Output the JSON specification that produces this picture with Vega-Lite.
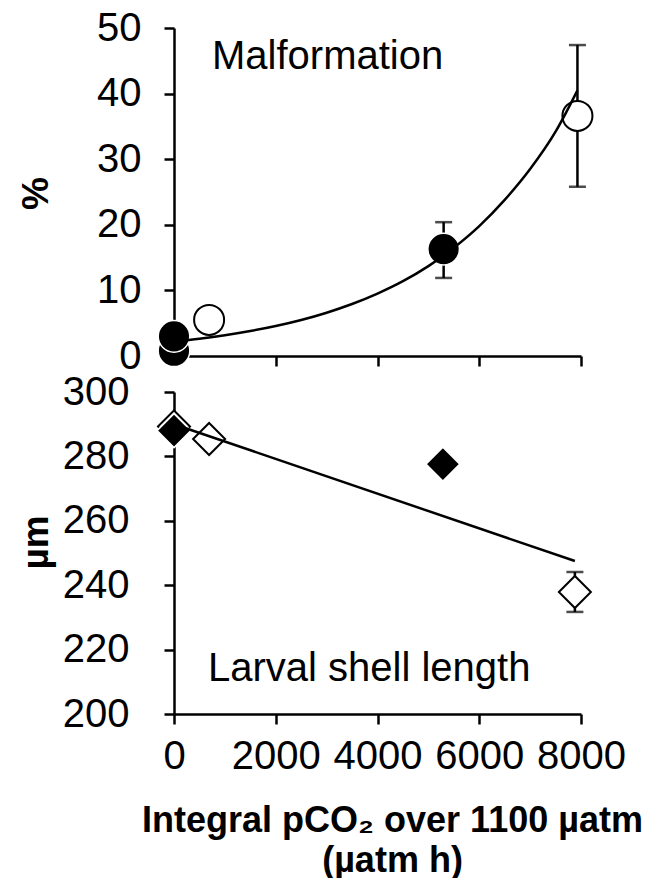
{
  "$schema": "https://vega.github.io/schema/vega-lite/v6.json",
  "background": "white",
  "padding": {"left": 17, "top": 8, "right": 0, "bottom": 0},
  "bounds": "flush",
  "spacing": 36,
  "config": {
    "font": "Liberation Sans",
    "view": {"stroke": null},
    "text": {"font": "Liberation Sans"},
    "axis": {
      "domainColor": "black", "domainWidth": 2.5,
      "tickColor": "black", "tickWidth": 2.5, "tickSize": 10,
      "labelFont": "Liberation Sans", "labelFontSize": 40, "labelColor": "black",
      "labelOverlap": false, "labelFlush": false,
      "grid": false,
      "titleFont": "Liberation Sans", "titleFontWeight": "bold", "titleColor": "black", "titleFontSize": 37
    }
  },
  "datasets": {
    "malf": [
      {"x": 0, "y": 0.8, "kind": "closed"},
      {"x": 0, "y": 3.0, "kind": "closed"},
      {"x": 690, "y": 5.5, "kind": "open"},
      {"x": 5300, "y": 16.3, "lo": 11.9, "hi": 20.4, "kind": "closed"},
      {"x": 7930, "y": 36.6, "lo": 25.8, "hi": 47.4, "kind": "open"}
    ],
    "malfCurve": [
      {"x": 0, "y": 2.2}, {"x": 500, "y": 2.64}, {"x": 1000, "y": 3.17}, {"x": 1500, "y": 3.81},
      {"x": 2000, "y": 4.57}, {"x": 2500, "y": 5.49}, {"x": 3000, "y": 6.6}, {"x": 3500, "y": 7.92},
      {"x": 4000, "y": 9.51}, {"x": 4500, "y": 11.4}, {"x": 5000, "y": 13.7}, {"x": 5500, "y": 16.5},
      {"x": 6000, "y": 19.8}, {"x": 6500, "y": 23.8}, {"x": 7000, "y": 28.5}, {"x": 7500, "y": 34.2},
      {"x": 7930, "y": 40.5}
    ],
    "shell": [
      {"x": 0, "y": 289.3, "kind": "open"},
      {"x": 690, "y": 285.4, "kind": "open"},
      {"x": 7880, "y": 237.9, "lo": 231.7, "hi": 244.1, "kind": "open"},
      {"x": 0, "y": 288.0, "kind": "closed"},
      {"x": 5285, "y": 277.6, "kind": "closed"}
    ],
    "shellLine": [
      {"x": 0, "y": 290.0},
      {"x": 7880, "y": 247.5}
    ],
    "labelTop": [{"label": "Malformation"}],
    "labelBottom": [{"label": "Larval shell length"}]
  },
  "vconcat": [
    {
      "width": 407,
      "height": 328,
      "layer": [
        {
          "data": {"name": "malfCurve"},
          "mark": {"type": "line", "color": "black", "strokeWidth": 0, "opacity": 0},
          "encoding": {
            "x": {"field": "x", "type": "quantitative",
              "scale": {"domain": [0, 8000], "nice": false},
              "axis": {"labels": false, "title": null, "values": [0, 2000, 4000, 6000, 8000]}},
            "y": {"field": "y", "type": "quantitative",
              "scale": {"domain": [0, 50], "nice": false},
              "axis": {"values": [0, 10, 20, 30, 40, 50], "title": "%", "titleX": -127, "titleY": 165,
                "titleBaseline": "alphabetic", "labelPadding": 23}}
          }
        },
        {
          "data": {"name": "malf"},
          "transform": [{"filter": "isValid(datum.lo)"}],
          "mark": {"type": "rule", "color": "black", "strokeWidth": 2.5},
          "encoding": {
            "x": {"field": "x", "type": "quantitative"},
            "y": {"field": "lo", "type": "quantitative"},
            "y2": {"field": "hi"}
          }
        },
        {
          "data": {"name": "malf"},
          "transform": [{"filter": "isValid(datum.lo)"}],
          "mark": {"type": "tick", "orient": "horizontal", "color": "black", "size": 17, "thickness": 2.5},
          "encoding": {
            "x": {"field": "x", "type": "quantitative"},
            "y": {"field": "lo", "type": "quantitative"}
          }
        },
        {
          "data": {"name": "malf"},
          "transform": [{"filter": "isValid(datum.hi)"}],
          "mark": {"type": "tick", "orient": "horizontal", "color": "black", "size": 17, "thickness": 2.5},
          "encoding": {
            "x": {"field": "x", "type": "quantitative"},
            "y": {"field": "hi", "type": "quantitative"}
          }
        },
        {
          "data": {"name": "malf"},
          "transform": [{"filter": "datum.kind == 'open'"}],
          "mark": {"type": "point", "shape": "circle", "filled": true, "fill": "white", "stroke": "black", "strokeWidth": 2, "size": 900, "opacity": 1},
          "encoding": {
            "x": {"field": "x", "type": "quantitative"},
            "y": {"field": "y", "type": "quantitative"}
          }
        },
        {
          "data": {"name": "malf"},
          "transform": [{"filter": "datum.kind == 'closed'"}],
          "mark": {"type": "point", "shape": "circle", "filled": true, "fill": "black", "stroke": "white", "strokeWidth": 1.5, "size": 1000, "opacity": 1},
          "encoding": {
            "x": {"field": "x", "type": "quantitative"},
            "y": {"field": "y", "type": "quantitative"}
          }
        },
        {
          "data": {"name": "malfCurve"},
          "mark": {"type": "line", "color": "black", "strokeWidth": 2.5, "interpolate": "monotone"},
          "encoding": {
            "x": {"field": "x", "type": "quantitative"},
            "y": {"field": "y", "type": "quantitative"}
          }
        },
        {
          "data": {"name": "labelTop"},
          "mark": {"type": "text", "align": "left", "baseline": "alphabetic", "fontSize": 40, "color": "black"},
          "encoding": {
            "x": {"datum": 747},
            "y": {"datum": 43.75},
            "text": {"field": "label", "type": "nominal"}
          }
        }
      ]
    },
    {
      "width": 407,
      "height": 322,
      "layer": [
        {
          "data": {"name": "shellLine"},
          "mark": {"type": "line", "color": "black", "strokeWidth": 0, "opacity": 0},
          "encoding": {
            "x": {"field": "x", "type": "quantitative",
              "scale": {"domain": [0, 8000], "nice": false},
              "axis": {"values": [0, 2000, 4000, 6000, 8000], "format": "d", "labelPadding": 12, "labelDx": -5,
                "title": ["Integral pCO₂ over 1100 µatm", "(µatm h)"],
                "titleX": 218, "titleY": 117, "titleBaseline": "alphabetic", "titleLineHeight": 40, "titleFontSize": 36}},
            "y": {"field": "y", "type": "quantitative",
              "scale": {"domain": [200, 300], "nice": false},
              "axis": {"values": [200, 220, 240, 260, 280, 300], "title": "µm", "titleX": -127, "titleY": 150,
                "titleBaseline": "alphabetic", "labelPadding": 35}}
          }
        },
        {
          "data": {"name": "shell"},
          "transform": [{"filter": "isValid(datum.lo)"}],
          "mark": {"type": "rule", "color": "black", "strokeWidth": 2.5},
          "encoding": {
            "x": {"field": "x", "type": "quantitative"},
            "y": {"field": "lo", "type": "quantitative"},
            "y2": {"field": "hi"}
          }
        },
        {
          "data": {"name": "shell"},
          "transform": [{"filter": "isValid(datum.lo)"}],
          "mark": {"type": "tick", "orient": "horizontal", "color": "black", "size": 17, "thickness": 2.5},
          "encoding": {
            "x": {"field": "x", "type": "quantitative"},
            "y": {"field": "lo", "type": "quantitative"}
          }
        },
        {
          "data": {"name": "shell"},
          "transform": [{"filter": "isValid(datum.hi)"}],
          "mark": {"type": "tick", "orient": "horizontal", "color": "black", "size": 17, "thickness": 2.5},
          "encoding": {
            "x": {"field": "x", "type": "quantitative"},
            "y": {"field": "hi", "type": "quantitative"}
          }
        },
        {
          "data": {"name": "shell"},
          "transform": [{"filter": "datum.kind == 'open'"}],
          "mark": {"type": "point", "shape": "diamond", "filled": true, "fill": "white", "stroke": "black", "strokeWidth": 2, "size": 1024, "opacity": 1},
          "encoding": {
            "x": {"field": "x", "type": "quantitative"},
            "y": {"field": "y", "type": "quantitative"}
          }
        },
        {
          "data": {"name": "shell"},
          "transform": [{"filter": "datum.kind == 'closed'"}],
          "mark": {"type": "point", "shape": "diamond", "filled": true, "fill": "black", "stroke": "white", "strokeWidth": 1.5, "size": 1150, "opacity": 1},
          "encoding": {
            "x": {"field": "x", "type": "quantitative"},
            "y": {"field": "y", "type": "quantitative"}
          }
        },
        {
          "data": {"name": "shellLine"},
          "mark": {"type": "line", "color": "black", "strokeWidth": 2.5},
          "encoding": {
            "x": {"field": "x", "type": "quantitative"},
            "y": {"field": "y", "type": "quantitative"}
          }
        },
        {
          "data": {"name": "labelBottom"},
          "mark": {"type": "text", "align": "left", "baseline": "alphabetic", "fontSize": 40, "color": "black"},
          "encoding": {
            "x": {"datum": 668},
            "y": {"datum": 210.2},
            "text": {"field": "label", "type": "nominal"}
          }
        }
      ]
    }
  ]
}
